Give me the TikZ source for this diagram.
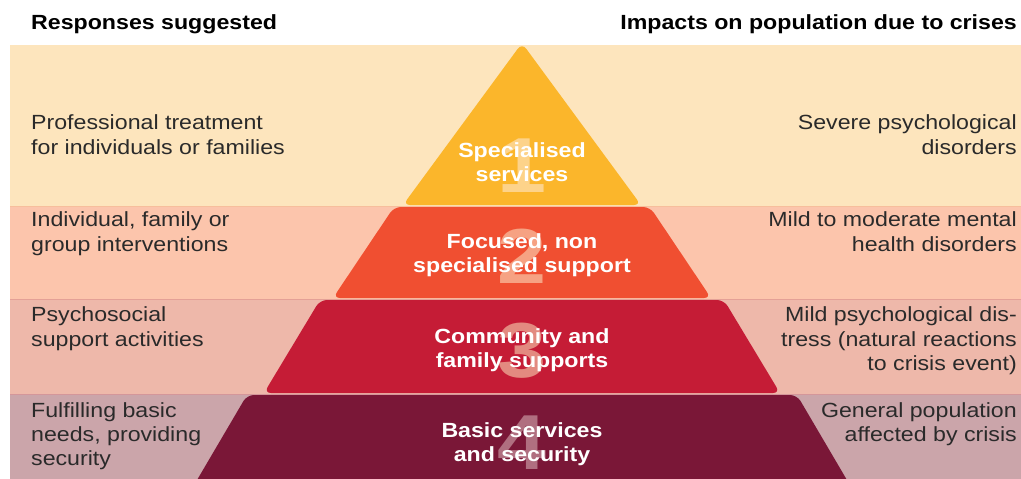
\documentclass[tikz,border=0pt]{standalone}
\usepackage{fontspec}
\setmainfont[FakeStretch=1.13]{Liberation Sans}
\definecolor{bandA}{HTML}{FDE5BD}
\definecolor{bandB}{HTML}{FCC5AC}
\definecolor{bandC}{HTML}{EEB8AA}
\definecolor{bandD}{HTML}{CBA5AA}
\definecolor{lineA}{HTML}{F7BE9C}
\definecolor{lineB}{HTML}{E4A096}
\definecolor{lineC}{HTML}{D4969A}
\definecolor{tierA}{HTML}{FBB62B}
\definecolor{tierB}{HTML}{F04F31}
\definecolor{tierC}{HTML}{C51C36}
\definecolor{tierD}{HTML}{7A1737}
\definecolor{digA}{HTML}{FDD38A}
\definecolor{digB}{HTML}{F6A283}
\definecolor{digC}{HTML}{E38A80}
\definecolor{digD}{HTML}{B06F80}
\definecolor{txtc}{HTML}{2A2A2A}
\newcommand{\lblfont}{\fontsize{20.5}{24.5}\selectfont}
\newcommand{\digfont}{\fontsize{78}{78}\selectfont\bfseries}
\begin{document}
\begin{tikzpicture}[x=1pt,y=-1pt,
  lefttxt/.style={anchor=base west,inner sep=0pt,text=txtc,font=\lblfont},
  righttxt/.style={anchor=base east,inner sep=0pt,text=txtc,font=\lblfont},
  headtxt/.style={inner sep=0pt,text=black,font=\lblfont\bfseries},
  ctxt/.style={anchor=base,inner sep=0pt,text=white,font=\lblfont\bfseries},
  digit/.style={anchor=base,inner sep=0pt,font=\digfont},
  tier/.style={rounded corners=7pt}]
\useasboundingbox (0,0) rectangle (1021,479);
\clip (0,0) rectangle (1021,479);
\fill[white] (0,0) rectangle (1021,479);
% bands
\fill[bandA] (10,45) rectangle (1021,206);
\fill[bandB] (10,206) rectangle (1021,299);
\fill[bandC] (10,299) rectangle (1021,394);
\fill[bandD] (10,394) rectangle (1021,490);
\draw[lineA,line width=0.8pt] (10,206) -- (1021,206);
\draw[lineB,line width=0.8pt] (10,299) -- (1021,299);
\draw[lineC,line width=0.8pt] (10,394) -- (1021,394);
% pyramid tiers
\fill[tierA,tier] (403,205) -- (522,43) -- (641,205) -- cycle;
\fill[tierB,tier] (333,298) -- (394,207) -- (650,207) -- (711,298) -- cycle;
\fill[tierC,tier] (264,393) -- (320,300) -- (724,300) -- (780,393) -- cycle;
\fill[tierD,tier] (190,492) -- (247,395) -- (797,395) -- (854,492) -- cycle;
% big digits
\node[digit,text=digA] (d1) at (522,192) {1};
\node[digit,text=digB] (d2) at (522,283) {2};
\node[digit,text=digC] (d3) at (522,377) {3};
\node[digit,text=digD] (d4) at (522,469) {4};
% headers
\node[headtxt,anchor=base west] (hl) at (31,29) {Responses suggested};
\node[headtxt,anchor=base east] (hr) at (1017,29) {Impacts on population due to crises};
% centre labels
\node[ctxt] (c1a) at (522,157) {Specialised};
\node[ctxt] (c1b) at (522,181) {services};
\node[ctxt] (c2a) at (522,248) {Focused, non};
\node[ctxt] (c2b) at (522,272) {specialised support};
\node[ctxt] (c3a) at (522,343) {Community and};
\node[ctxt] (c3b) at (522,367) {family supports};
\node[ctxt] (c4a) at (522,437) {Basic services};
\node[ctxt] (c4b) at (522,461) {and security};
% left labels
\node[lefttxt] (l1a) at (31,129) {Professional treatment};
\node[lefttxt] (l1b) at (31,154) {for individuals or families};
\node[lefttxt] (l2a) at (31,226) {Individual, family or};
\node[lefttxt] (l2b) at (31,251) {group interventions};
\node[lefttxt] (l3a) at (31,321) {Psychosocial};
\node[lefttxt] (l3b) at (31,346) {support activities};
\node[lefttxt] (l4a) at (31,417) {Fulfilling basic};
\node[lefttxt] (l4b) at (31,441) {needs, providing};
\node[lefttxt] (l4c) at (31,465) {security};
% right labels
\node[righttxt] (r1a) at (1017,129) {Severe psychological};
\node[righttxt] (r1b) at (1017,154) {disorders};
\node[righttxt] (r2a) at (1017,226) {Mild to moderate mental};
\node[righttxt] (r2b) at (1017,251) {health disorders};
\node[righttxt] (r3a) at (1017,321) {Mild psychological dis-};
\node[righttxt] (r3b) at (1017,346) {tress (natural reactions};
\node[righttxt] (r3c) at (1017,370) {to crisis event)};
\node[righttxt] (r4a) at (1017,417) {General population};
\node[righttxt] (r4b) at (1017,441) {affected by crisis};
\end{tikzpicture}
\end{document}
